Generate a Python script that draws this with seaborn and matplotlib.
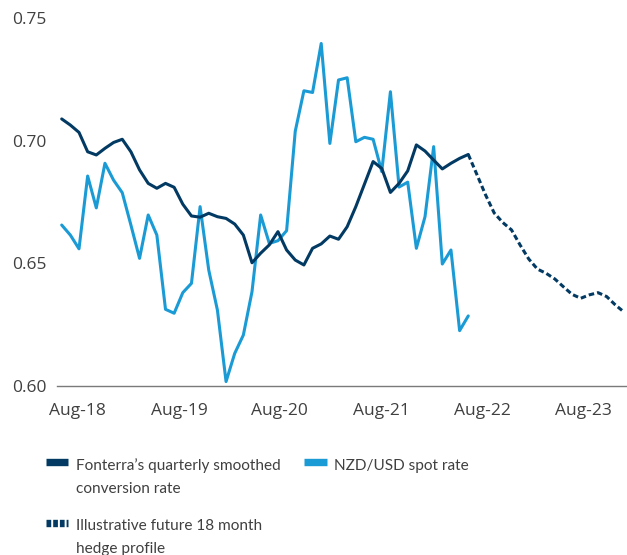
import pandas as pd
import seaborn as sns
import matplotlib.pyplot as plt
from matplotlib.lines import Line2D

DARK = "#023a63"
LIGHT = "#1b9bd5"
TEXT = "#404040"

# monthly points, starting Jun-18 (index 0)
spot_rate = [
    0.6657, 0.6616, 0.6560, 0.6857, 0.6727, 0.6909, 0.6840, 0.6789,
    0.6657, 0.6521, 0.6698, 0.6616, 0.6313, 0.6297, 0.6381, 0.6419,
    0.6732, 0.6473, 0.6310, 0.6018, 0.6133, 0.6208, 0.6385, 0.6698,
    0.6582, 0.6593, 0.6634, 0.7040, 0.7205, 0.7198, 0.7398, 0.6990,
    0.7249, 0.7258, 0.6997, 0.7015, 0.7007, 0.6875, 0.7201, 0.6812,
    0.6832, 0.6562, 0.6691, 0.6977, 0.6498, 0.6555, 0.6226, 0.6286,
]
smoothed_rate = [
    0.7090, 0.7065, 0.7035, 0.6956, 0.6943, 0.6970, 0.6994, 0.7007,
    0.6956, 0.6882, 0.6827, 0.6807, 0.6827, 0.6811, 0.6742, 0.6694,
    0.6689, 0.6705, 0.6691, 0.6684, 0.6661, 0.6616, 0.6503, 0.6542,
    0.6576, 0.6630, 0.6555, 0.6514, 0.6494, 0.6562, 0.6580, 0.6612,
    0.6599, 0.6650, 0.6732, 0.6824, 0.6916, 0.6888, 0.6790, 0.6827,
    0.6878, 0.6984, 0.6959, 0.6922, 0.6886, 0.6909, 0.6929, 0.6945,
]
# hedge profile continues from the last smoothed point
hedge_profile = [
    0.6945, 0.6863, 0.6780, 0.6706, 0.6667, 0.6637, 0.6575, 0.6518,
    0.6477, 0.6460, 0.6437, 0.6405, 0.6374, 0.6358, 0.6372, 0.6381,
    0.6365, 0.6331, 0.6302,
]
tick_labels = ["Aug-18", "Aug-19", "Aug-20", "Aug-21", "Aug-22", "Aug-23"]
tick_pos = [1.83, 13.56, 25.13, 36.91, 48.65, 60.27]
y_ticks = [0.60, 0.65, 0.70, 0.75]

legend_labels = [
    "Fonterra’s quarterly smoothed\nconversion rate",
    "NZD/USD spot rate",
    "Illustrative future 18 month\nhedge profile",
]

start = len(smoothed_rate) - 1
df_spot = pd.DataFrame({"idx": range(len(spot_rate)), "val": spot_rate})
df_smooth = pd.DataFrame({"idx": range(len(smoothed_rate)), "val": smoothed_rate})
df_hedge = pd.DataFrame({"idx": range(start, start + len(hedge_profile)), "val": hedge_profile})

sns.set_style("white")
plt.rcParams["font.family"] = ["Open Sans", "DejaVu Sans"]

W, H = 627, 555
fig = plt.figure(figsize=(W / 100, H / 100), dpi=100)
ax = fig.add_axes([0.0904, 0.3045, 0.9096, 0.6622])

sns.lineplot(data=df_spot, x="idx", y="val", color=LIGHT, lw=2.2, ax=ax)
sns.lineplot(data=df_smooth, x="idx", y="val", color=DARK, lw=2.2, ax=ax)
sns.lineplot(data=df_hedge, x="idx", y="val", color=DARK, lw=2.2, ax=ax)
ax.lines[-1].set_dashes((1.8, 1.0))
ax.lines[-1].set_dash_capstyle("butt")

ax.set_xlim(-0.58, 65.35)
ax.set_ylim(0.60, 0.75)
ax.set_xticks(tick_pos)
ax.set_xticklabels(tick_labels)
ax.set_yticks(y_ticks)
ax.set_yticklabels([f"{v:.2f}" for v in y_ticks])
ax.tick_params(axis="both", length=0, labelsize=12.5, labelcolor=TEXT)
ax.tick_params(axis="y", pad=7)
ax.tick_params(axis="x", pad=12)
ax.set_xlabel("")
ax.set_ylabel("")
for s in ["top", "right", "left"]:
    ax.spines[s].set_visible(False)
ax.spines["bottom"].set_color("#7a7a7a")
ax.spines["bottom"].set_linewidth(1.0)

# legend drawn by hand so the key sits next to the first text line
leg_font = ["Lato", "Open Sans", "DejaVu Sans"]
line_step = 22.7
entries = [
    # (key x0, key x1, key y, text x, first baseline y, colour, dashed)
    (46, 68, 462, 76, 470, DARK, False),
    (304, 327, 462, 334, 470, LIGHT, False),
    (46, 68, 523, 76, 530, DARK, True),
]
for (x0, x1, ky, tx, by, col, dashed), lab in zip(entries, legend_labels):
    key = Line2D([x0 / W, x1 / W], [1 - ky / H, 1 - ky / H], transform=fig.transFigure,
                 color=col, lw=5.3, solid_capstyle="butt", dash_capstyle="butt")
    if dashed:
        key.set_dashes((0.64, 0.27))
    fig.add_artist(key)
    for i, part in enumerate(lab.split("\n")):
        fig.text(tx / W, 1 - (by + i * line_step) / H, part, family=leg_font,
                 fontsize=11.1, color=TEXT, va="baseline", ha="left")

fig.savefig("out.png", dpi=100)
